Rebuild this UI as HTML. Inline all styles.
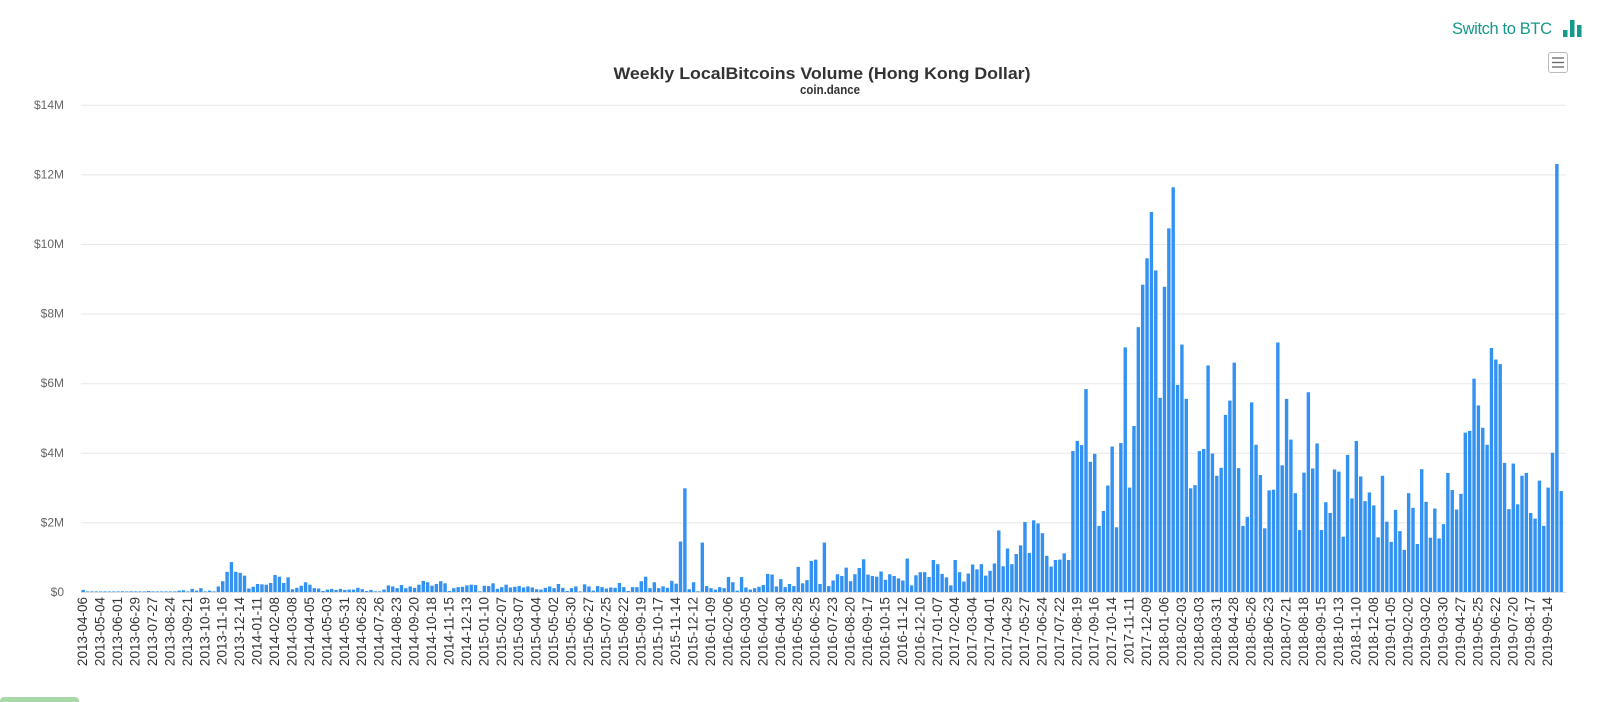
<!DOCTYPE html>
<html><head><meta charset="utf-8"><style>
html,body{margin:0;padding:0;background:#fff;width:1600px;height:702px;overflow:hidden;font-family:"Liberation Sans",Arial,sans-serif}
</style></head><body>
<svg id="c" width="1600" height="702" xmlns="http://www.w3.org/2000/svg" style="position:absolute;left:0;top:0">
<text x="1452" y="34" font-size="16.5" fill="#15998a" font-family="Liberation Sans, sans-serif" textLength="100">Switch to BTC</text>
<rect x="1563" y="30" width="4.5" height="7" fill="#15998a"/>
<rect x="1570" y="20" width="4.5" height="17" fill="#15998a"/>
<rect x="1577" y="25" width="4.5" height="12" fill="#15998a"/>
<rect x="1548.5" y="52.5" width="19" height="20" rx="2.5" fill="#fff" stroke="#bbb"/>
<line x1="1552" y1="58" x2="1564" y2="58" stroke="#666" stroke-width="1.3"/>
<line x1="1552" y1="62.5" x2="1564" y2="62.5" stroke="#666" stroke-width="1.3"/>
<line x1="1552" y1="67" x2="1564" y2="67" stroke="#666" stroke-width="1.3"/>
<text x="822" y="79" text-anchor="middle" font-size="16.5" font-weight="bold" fill="#333" textLength="417" lengthAdjust="spacingAndGlyphs">Weekly LocalBitcoins Volume (Hong Kong Dollar)</text>
<text x="830" y="94" text-anchor="middle" font-size="13" font-weight="bold" fill="#333" textLength="60" lengthAdjust="spacingAndGlyphs">coin.dance</text>
<rect x="0" y="697" width="79" height="10" rx="4" fill="#a8d8a8"/>
<g id="grid"></g><g id="bars"></g><g id="xl"></g>
</svg>
<script>
var d=[0.06,0.01,0.01,0.01,0.01,0.01,0.01,0.01,0.01,0.02,0.01,0.02,0.01,0.01,0.01,0.03,0.01,0.01,0.01,0.01,0.01,0.01,0.04,0.05,0.01,0.09,0.04,0.11,0,0.04,0,0.16,0.31,0.58,0.86,0.58,0.55,0.47,0.1,0.15,0.23,0.22,0.21,0.26,0.49,0.44,0.26,0.42,0.08,0.12,0.18,0.28,0.21,0.11,0.1,0.03,0.07,0.09,0.06,0.09,
0.06,0.07,0.07,0.12,0.08,0.03,0.06,0.02,0.02,0.07,0.19,0.16,0.11,0.2,0.11,0.16,0.12,0.21,0.32,0.28,0.18,0.23,0.31,0.25,0.03,0.11,0.14,0.15,0.19,0.21,0.2,0.02,0.18,0.17,0.25,0.09,0.14,0.21,0.13,0.15,0.17,0.13,0.16,0.13,0.08,0.07,0.12,0.16,0.11,0.23,0.12,0.03,0.11,0.16,0,0.22,0.16,0.04,0.17,
0.14,0.1,0.13,0.12,0.26,0.14,0.03,0.14,0.14,0.31,0.44,0.11,0.28,0.11,0.16,0.12,0.32,0.24,1.45,2.98,0.08,0.28,0.02,1.42,0.17,0.11,0.07,0.14,0.11,0.43,0.28,0.04,0.43,0.13,0.07,0.11,0.15,0.2,0.52,0.5,0.16,0.37,0.14,0.23,0.17,0.72,0.25,0.34,0.89,0.93,0.23,
1.42,0.17,0.33,0.51,0.46,0.7,0.31,0.51,0.69,0.94,0.5,0.46,0.44,0.59,0.35,0.51,0.46,0.39,0.33,0.96,0.19,0.48,0.57,0.57,0.43,0.92,0.8,0.52,0.42,0.19,0.92,0.57,0.3,0.53,0.79,0.65,0.8,0.47,0.61,0.82,1.77,0.74,1.25,0.8,1.09,1.34,2.01,1.12,2.06,1.97,
1.69,1.04,0.73,0.92,0.93,1.11,0.92,4.05,4.34,4.22,5.83,3.74,3.97,1.9,2.33,3.06,4.18,1.86,4.28,7.03,3.0,4.77,7.61,8.83,9.59,10.92,9.24,5.58,8.77,10.45,11.63,5.95,7.11,5.55,2.98,3.07,4.05,4.11,6.51,3.98,3.34,3.57,5.09,5.5,6.59,3.56,1.9,2.16,5.45,4.23,3.36,1.83,2.92,2.94,7.17,3.64,5.55,4.38,2.84,
1.78,3.43,5.74,3.55,4.27,1.78,2.58,2.27,3.52,3.46,1.59,3.94,2.69,4.34,3.32,2.61,2.86,2.49,1.57,3.34,2.02,1.44,2.36,1.75,1.21,2.84,2.42,1.38,3.53,2.59,1.56,2.4,1.54,1.95,3.42,2.93,2.37,2.82,4.58,4.63,6.13,5.36,4.72,4.23,7.01,6.68,6.55,3.71,2.38,3.69,2.52,3.34,3.42,2.27,2.11,3.2,
1.9,3.0,4.0,12.3,2.9];
var NS="http://www.w3.org/2000/svg";
function el(t,a,p,txt){var e=document.createElementNS(NS,t);for(var k in a)e.setAttribute(k,a[k]);if(txt!=null)e.textContent=txt;document.getElementById(p).appendChild(e);return e;}
var base=592,pm=34.8,x0=81,w=4.36;
for(var g=0;g<=7;g++){var y=base-g*2*pm;
 el('line',{x1:x0,x2:1566,y1:y+0.5,y2:y+0.5,stroke:g==0?'#ddd':'#e8e8e8','stroke-width':1},'grid');
 el('text',{x:64,y:y+4,'text-anchor':'end','font-size':12,fill:'#666'},'grid',g==0?'$0':'$'+(g*2)+'M');}
for(var i=0;i<d.length;i++){var h=d[i]*pm;if(h<0.6)h=0.6;var cx=83.2+i*w;
 el('rect',{x:(cx-1.7).toFixed(2),y:(base-h).toFixed(2),width:3.4,height:h.toFixed(2),fill:'#3391f2'},'bars');}
var start=Date.UTC(2013,3,6);
for(var i=0;i<=336;i+=4){var dt=new Date(start+i*7*864e5);var s=dt.toISOString().slice(0,10);var cx=83.2+i*w+4;
 el('text',{x:0,y:0,transform:'translate('+cx.toFixed(1)+',597) rotate(-90)','text-anchor':'end','font-size':13.5,fill:'#333'},'xl',s);}
</script>
</body></html>
